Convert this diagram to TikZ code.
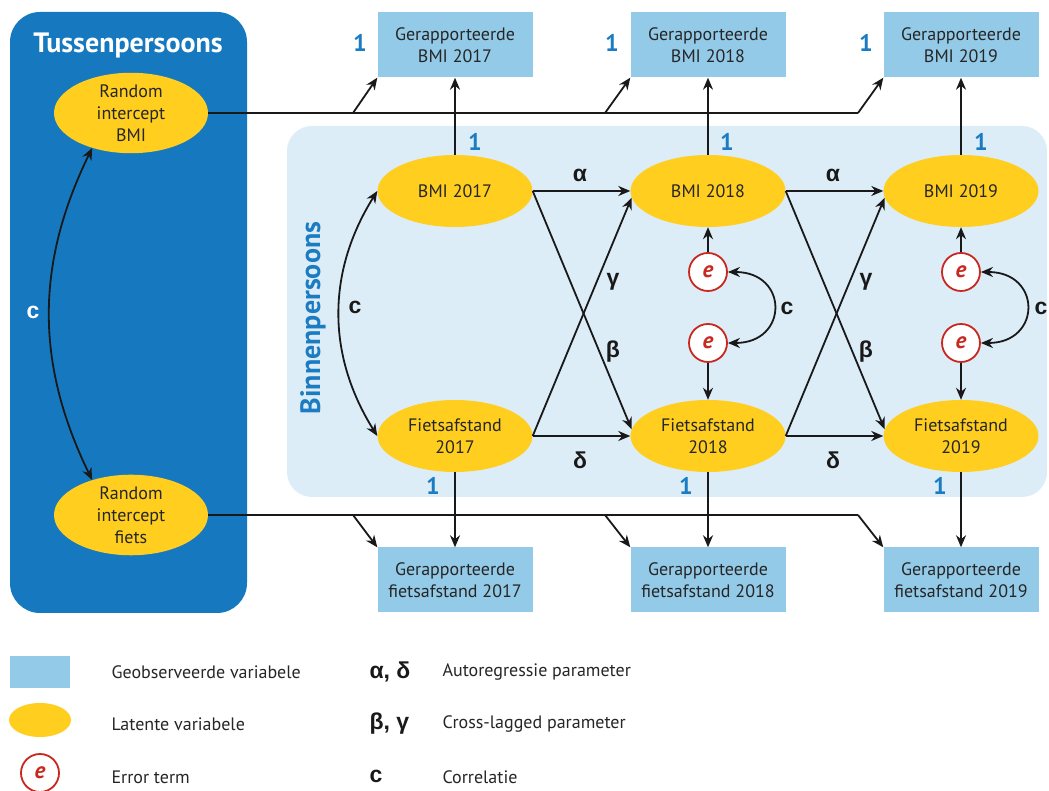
\documentclass[tikz,border=0pt]{standalone}
\usepackage{xcolor}
\usepackage{fontspec}
\setmainfont{PT Sans}
\newfontfamily\lblfont{Liberation Sans}
\usepackage{tikz}
\usetikzlibrary{shapes.geometric, arrows.meta, positioning}

\definecolor{tussenblue}{HTML}{1679C0}
\definecolor{binnenblue}{HTML}{DCEDF8}
\definecolor{obsblue}{HTML}{93CAE8}
\definecolor{latyellow}{HTML}{FFCE1F}
\definecolor{errred}{HTML}{C8281E}
\definecolor{numblue}{HTML}{1C7CC2}

\begin{document}
\begin{tikzpicture}[x=1pt, y=1pt, node distance=253pt]
\tikzstyle{observed} = [rectangle, minimum width=155pt, minimum height=65pt, align=center, fill=obsblue, text=black!85, font=\fontsize{18}{22}\selectfont]
\tikzstyle{latent} = [ellipse, minimum width=155pt, minimum height=72pt, inner sep=0pt, align=center, fill=latyellow, text=black!85, font=\fontsize{18}{22}\selectfont]
\tikzstyle{error} = [circle, draw=errred, line width=1.8pt, fill=white, minimum size=38pt, inner sep=0pt, text=errred, font=\fontsize{23}{23}\selectfont\bfseries\itshape]
\tikzstyle{one} = [text=numblue, font=\fontsize{24}{24}\selectfont\bfseries]
\tikzstyle{param} = [text=black!90, font=\fontsize{23}{23}\selectfont\lblfont\bfseries]
\tikzstyle{legendtext} = [anchor=west, text=black!85, font=\fontsize{18}{20}\selectfont]
\tikzstyle{line} = [line width=1.8pt, draw=black!90]
\tikzstyle{arrow} = [line, -{Stealth[length=12pt,width=10pt]}]
\tikzstyle{dblarrow} = [line, {Stealth[length=12pt,width=10pt]}-{Stealth[length=12pt,width=10pt]}]

\useasboundingbox (0,0) rectangle (1049,791);

% panels
\fill [tussenblue, rounded corners=30pt] (10,178) rectangle (247,779);
\fill [binnenblue, rounded corners=25pt] (287,294) rectangle (1047,665);
\node (tussen) at (128,745) [text=white, font=\fontsize{28}{28}\selectfont\bfseries] {Tussenpersoons};
\node (binnen) at (313,473) [rotate=90, text=numblue, font=\fontsize{28}{28}\selectfont\bfseries] {Binnenpersoons};

% random intercepts
\node (ribmi) at (131,678) [latent, minimum width=154pt, minimum height=76pt] {Random\\intercept\\BMI};
\node (rifiets) at (131,276) [latent, minimum width=154pt, minimum height=76pt] {Random\\intercept\\fiets};

% latent variables
\node (bmi17) at (455,600) [latent] {BMI 2017};
\node (bmi18) [latent, right of=bmi17] {BMI 2018};
\node (bmi19) [latent, right of=bmi18] {BMI 2019};
\node (fiets17) at (455,355) [latent] {Fietsafstand\\2017};
\node (fiets18) [latent, right of=fiets17] {Fietsafstand\\2018};
\node (fiets19) [latent, right of=fiets18] {Fietsafstand\\2019};

% observed variables
\node (obsbmi17) at (455,746) [observed] {Gerapporteerde\\BMI 2017};
\node (obsbmi18) [observed, right of=obsbmi17] {Gerapporteerde\\BMI 2018};
\node (obsbmi19) [observed, right of=obsbmi18] {Gerapporteerde\\BMI 2019};
\node (obsfiets17) at (455,211) [observed] {Gerapporteerde\\fietsafstand 2017};
\node (obsfiets18) [observed, right of=obsfiets17] {Gerapporteerde\\fietsafstand 2018};
\node (obsfiets19) [observed, right of=obsfiets18] {Gerapporteerde\\fietsafstand 2019};

% error terms
\node (ebmi18) at (708,519) [error] {e};
\node (efiets18) at (708,448) [error] {e};
\node (ebmi19) [error, right of=ebmi18] {e};
\node (efiets19) [error, right of=efiets18] {e};

% branch points of the random intercepts
\coordinate (tb17) at (353,678);
\coordinate (tb18) at (605,678);
\coordinate (tb19) at (858,678);
\coordinate (bb17) at (353,276);
\coordinate (bb18) at (605,276);
\coordinate (bb19) at (858,276);

\draw [line] (ribmi.east) -- (tb19);
\draw [line] (rifiets.east) -- (bb19);
\draw [arrow] (tb17) -- (obsbmi17.south west);
\draw [arrow] (tb18) -- (obsbmi18.south west);
\draw [arrow] (tb19) -- (obsbmi19.south west);
\draw [arrow] (bb17) -- (obsfiets17.north west);
\draw [arrow] (bb18) -- (obsfiets18.north west);
\draw [arrow] (bb19) -- (obsfiets19.north west);

% loadings
\draw [arrow] (bmi17.north) -- (obsbmi17.south);
\draw [arrow] (bmi18.north) -- (obsbmi18.south);
\draw [arrow] (bmi19.north) -- (obsbmi19.south);
\draw [arrow] (fiets17.south) -- (obsfiets17.north);
\draw [arrow] (fiets18.south) -- (obsfiets18.north);
\draw [arrow] (fiets19.south) -- (obsfiets19.north);

\node (one1) at (360,748) [one] {1};
\node (one2) at (612,748) [one] {1};
\node (one3) at (866,748) [one] {1};
\node (one4) at (475,649) [one] {1};
\node (one5) at (727,649) [one] {1};
\node (one6) at (981,649) [one] {1};
\node (one7) at (433,305) [one] {1};
\node (one8) at (686,305) [one] {1};
\node (one9) at (940,305) [one] {1};

% autoregressive and cross-lagged paths
\draw [arrow] (bmi17.east) -- (bmi18.west);
\draw [arrow] (bmi18.east) -- (bmi19.west);
\draw [arrow] (fiets17.east) -- (fiets18.west);
\draw [arrow] (fiets18.east) -- (fiets19.west);
\draw [arrow] (bmi17.east) -- (fiets18.175);
\draw [arrow] (bmi18.east) -- (fiets19.175);
\draw [arrow] (fiets17.east) -- (bmi18.185);
\draw [arrow] (fiets18.east) -- (bmi19.185);

\node (alpha1) at (580,616) [param] {α};
\node (alpha2) at (833,616) [param] {α};
\node (delta1) at (580,331) [param] {δ};
\node (delta2) at (833,331) [param] {δ};
\node (gamma1) at (613,509) [param] {γ};
\node (gamma2) at (866,509) [param] {γ};
\node (beta1) at (613,439) [param] {β};
\node (beta2) at (866,439) [param] {β};

% errors
\draw [arrow] (ebmi18) -- (bmi18.south);
\draw [arrow] (efiets18) -- (fiets18.north);
\draw [arrow] (ebmi19) -- (bmi19.south);
\draw [arrow] (efiets19) -- (fiets19.north);

% correlations
\draw [dblarrow] (ribmi.222) to [bend right=26] (rifiets.138);
\draw [dblarrow] (bmi17.west) to [bend right=32] (fiets17.west);
\draw [dblarrow] (ebmi18.east) to [out=0, in=0, looseness=2.2] (efiets18.east);
\draw [dblarrow] (ebmi19.east) to [out=0, in=0, looseness=2.2] (efiets19.east);

\node (c1) at (33,479) [param, text=white] {c};
\node (c2) at (355,484) [param] {c};
\node (c3) at (787,483) [param] {c};
\node (c4) at (1041,483) [param] {c};

% legend
\node (legobs) at (40,119) [rectangle, fill=obsblue, minimum width=60pt, minimum height=32pt] {};
\node (legobstext) at (108,119) [legendtext] {Geobserveerde variabele};
\node (leglat) at (40,71) [ellipse, fill=latyellow, minimum width=62pt, minimum height=34pt] {};
\node (leglattext) at (108,67) [legendtext] {Latente variabele};
\node (legerr) at (40,18) [error] {e};
\node (legerrtext) at (108,14) [legendtext] {Error term};
\node (legauto) at (366,119) [param, anchor=west] {α, δ};
\node (legautotext) at (439,119) [legendtext] {Autoregressie parameter};
\node (legcross) at (366,67) [param, anchor=west] {β, γ};
\node (legcrosstext) at (439,67) [legendtext] {Cross-lagged parameter};
\node (legcor) at (366,15) [param, anchor=west] {c};
\node (legcortext) at (439,14) [legendtext] {Correlatie};
\end{tikzpicture}
\end{document}
